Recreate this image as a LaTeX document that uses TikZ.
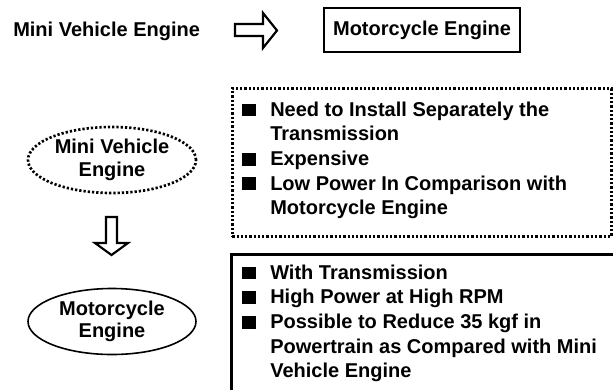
\documentclass[tikz,border=0pt]{standalone}
\usepackage{fontspec}
\setmainfont{Liberation Sans}
\usetikzlibrary{shapes.geometric,positioning}
\newcommand{\sqbullet}{\rule{10.5pt}{9.5pt}}

\begin{document}
\begin{tikzpicture}[x=0.75pt, y=-0.75pt,
  every node/.style={font=\fontsize{15}{17}\selectfont\bfseries, inner sep=0pt},
  heavybox/.style={draw, line width=2pt},
  dotbox/.style={draw, line width=2pt, dash pattern=on 1.7pt off 1.5pt},
  oval/.style={ellipse, draw, line width=1.2pt, minimum width=126pt, minimum height=49.5pt, align=center},
  dotoval/.style={oval, line width=2pt, dash pattern=on 1.7pt off 1.5pt},
  listtext/.style={anchor=north west, align=left, font=\fontsize{15}{18.4}\selectfont\bfseries},
  hollowarrow/.style={draw, line width=1.6pt, line join=miter}]
  \useasboundingbox (0,0) rectangle (613,389);

  % top row
  \node[anchor=base west] (miniTxt) at (13,36.5) {Mini Vehicle Engine};
  \node[heavybox, minimum width=147pt, minimum height=33pt] (motoBox) at (422,30) {Motorcycle Engine};
  \draw[hollowarrow] (235,24) -- (263,24) -- (263,13) -- (277,30.5) -- (263,48) -- (263,36) -- (235,36) -- cycle;

  % left column: the two engines
  \node[dotoval] (miniOval) at (112,160) {Mini Vehicle\\Engine};
  \node[oval] (motoOval) at (112,321.5) {Motorcycle\\Engine};
  \draw[hollowarrow] (106,217) -- (117,217) -- (117,243) -- (128,243) -- (111.5,255) -- (95,243) -- (106,243) -- cycle;

  % right column: drawbacks and merits
  \node[dotbox, anchor=north west, minimum width=284.25pt, minimum height=111pt] (consBox) at (231,87) {};
  \node[listtext] (consList) at ([xshift=8.25pt, yshift=-9pt]consBox.north west) {%
    \begin{tabular}{@{}p{21pt}@{}l@{}}
      \sqbullet & Need to Install Separately the\\
                & Transmission\\
      \sqbullet & Expensive\\
      \sqbullet & Low Power In Comparison with\\
                & Motorcycle Engine
    \end{tabular}};

  \node[heavybox, anchor=north west, minimum width=300pt, minimum height=112.5pt] (prosBox) at (230,253) {};
  \node[listtext] (prosList) at ([xshift=9pt, yshift=-6.75pt]prosBox.north west) {%
    \begin{tabular}{@{}p{21pt}@{}l@{}}
      \sqbullet & With Transmission\\
      \sqbullet & High Power at High RPM\\
      \sqbullet & Possible to Reduce 35 kgf in\\
                & Powertrain as Compared with Mini\\
                & Vehicle Engine
    \end{tabular}};
\end{tikzpicture}
\end{document}
